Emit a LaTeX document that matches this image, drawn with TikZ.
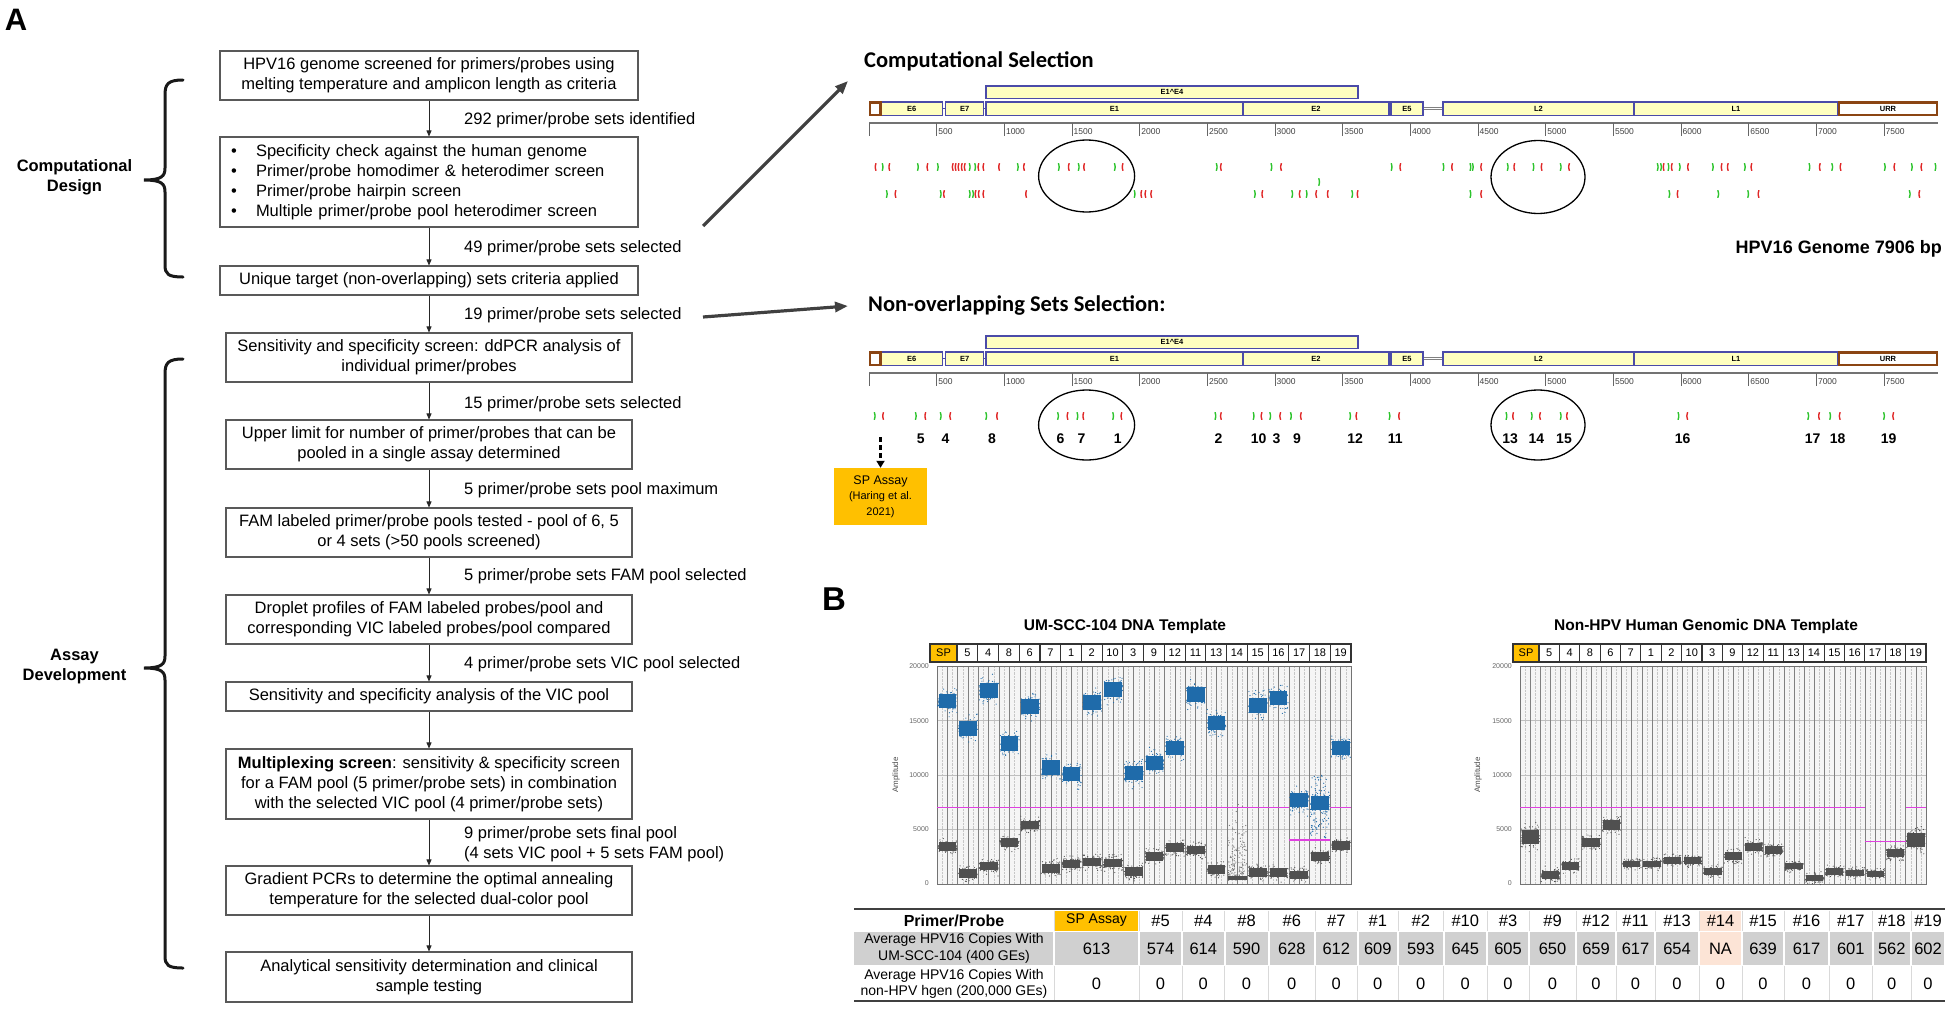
\documentclass[tikz,border=0pt]{standalone}
\usepackage{fontspec}
\setmainfont{Liberation Sans}
\newfontfamily\calib{Carlito}
\usetikzlibrary{arrows.meta}
\definecolor{gfill}{HTML}{FFFFC0}
\definecolor{gdraw}{HTML}{4B4BA8}
\definecolor{brownc}{HTML}{8B4513}
\definecolor{mkgreen}{HTML}{2EC42E}
\definecolor{mkred}{HTML}{E02828}
\definecolor{dropblue}{HTML}{1F6BAA}
\definecolor{dropgrey}{HTML}{505050}
\definecolor{thrmag}{HTML}{E040E0}
\definecolor{spor}{HTML}{FFC000}
\definecolor{peach}{HTML}{FCE4D6}
\definecolor{rowgrey}{HTML}{D0D0D0}
\definecolor{arrgrey}{HTML}{404040}
\newcommand\fs[2]{\fontsize{#1}{#2}\selectfont}
\newcommand\bx[6]{\node[#1, minimum width={(#4)-(#3)}, minimum height={(#6)-(#5)}] (#2) at ({((#3)+(#4))/2},{((#5)+(#6))/2})}
\newcommand\gmk[2]{\draw[mkgreen, line width=1.4pt] (#1,{#2-3.8}) .. controls ({#1+1.0},#2) .. (#1,{#2+3.8});}
\newcommand\rmk[2]{\draw[mkred, line width=1.4pt] (#1,{#2-3.8}) .. controls ({#1-1.0},#2) .. (#1,{#2+3.8});}
\newcommand\gmap[2]{%
\begin{scope}[shift={(0,#1)}]
 \draw[black!55, line width=1.8pt] (869,123) -- (1938,123);
 \foreach \tk in {0,500,...,7500}{\draw[black!60, line width=0.8pt] ({869+\tk*0.13533},123) -- ({869+\tk*0.13533},136);}
 \foreach \tk in {500,1000,...,7500}{\node[anchor=west, inner sep=0pt, font=\fs{8.5}{9}, text=black!75] at ({870.5+\tk*0.13533},131.5) {\tk};}
 \bx{gene}{#2ee}{986}{1358}{86}{98.5}{E1\textasciicircum E4};
 \bx{gene}{#2ea}{880.5}{942.7}{102}{115.5}{E6};
 \bx{gene}{#2eb}{945.6}{983.8}{102}{115.5}{E7};
 \bx{gene}{#2ec}{986}{1243}{102}{115.5}{E1};
 \bx{gene}{#2ed}{1243}{1389}{102}{115.5}{E2};
 \bx{gene}{#2ef}{1391}{1423}{102}{115.5}{E5};
 \bx{gene}{#2lb}{1443}{1634}{102}{115.5}{L2};
 \bx{gene}{#2la}{1634}{1838}{102}{115.5}{L1};
 \bx{brownbox}{#2lcr}{870}{880.5}{102.5}{115}{};
 \bx{brownbox}{#2urr}{1839}{1937}{102.5}{115}{URR};
 \draw[gdraw, line width=1pt] (#2ea.east) -- (#2eb.west);
 \draw[gdraw, line width=1pt] (#2eb.east) -- (#2ec.west);
 \draw[black!50, line width=3.2pt] (#2ef.east) -- (#2lb.west);
 \draw[white, line width=0.8pt] (#2ef.east) -- (#2lb.west);
\end{scope}}
\newcommand\blob[5]{%
 \fill[#5] ({#1+1.5},{#3-#4*0.33}) rectangle ({#1+#2-1.5},{#3+#4*0.33});
 \foreach \kk in {1,...,85}{\fill[#5] ({#1+0.7+rnd*(#2-1.4)},{#3+(rand+rand+rand)*#4*0.27}) circle (0.6);}
}
\newcommand\pframe[2]{%
 \fill[black!4] (#1,666) rectangle (#2,884);
 \pgfmathsetmacro\sw{(#2-#1)/40}
 \foreach \ii in {0,...,39}{\draw[black!22, densely dotted, line width=0.4pt] ({#1+(\ii+0.5)*\sw},666) -- ({#1+(\ii+0.5)*\sw},884);}
 \foreach \am in {5,10,15}{\draw[black!25, line width=0.6pt] (#1,{883.5-\am*10.85}) -- (#2,{883.5-\am*10.85});}
 \foreach \ii in {1,...,39}{\draw[black!50, line width=0.6pt] ({#1+\ii*\sw},666) -- ({#1+\ii*\sw},884);}
 \draw[black!55, line width=0.9pt] (#1,666) rectangle (#2,884);
 \foreach \am/\al in {0/0,5/5000,10/10000,15/15000,20/20000}{\node[anchor=east, inner sep=0pt, font=\fs{7}{8}, text=black!60] at ({#1-8},{883.5-\am*10.85}) {\al};}
}
\newcommand\phdr[4]{%
 \bx{hbox, fill=spor}{#4sp}{#1}{#2}{644}{662}{SP};
 \pgfmathsetmacro\hw{(#3-#2)/19}
 \foreach \lab [count=\jj from 0] in {5,4,8,6,7,1,2,10,3,9,12,11,13,14,15,16,17,18,19}{
   \bx{hbox}{#4h\lab}{#2+\jj*\hw}{#2+(\jj+1)*\hw}{644}{662}{\lab};
 }
}
\begin{document}
\begin{tikzpicture}[x=1pt,y=-1pt,
  flow/.style={draw=black!65, line width=1.1pt, fill=white, inner sep=0pt, align=center, font=\fs{16.5}{20}},
  flowlbl/.style={anchor=base west, inner sep=0pt, font=\fs{16.5}{20}},
  farr/.style={-{Triangle[length=6pt,width=5pt]}, line width=0.8pt, black!85},
  bracep/.style={line width=3pt, line cap=round, black!90},
  bigarr/.style={arrgrey, line width=3.2pt, -{Triangle[length=13pt,width=10pt]}},
  gene/.style={draw=gdraw, line width=1.2pt, fill=gfill, inner sep=0pt, font=\bfseries\fs{7.5}{8}},
  brownbox/.style={draw=brownc, line width=2.4pt, fill=white, inner sep=0pt, font=\bfseries\fs{7.5}{8}},
  hbox/.style={draw=black!80, line width=1.1pt, fill=white, inner sep=0pt, font=\fs{11}{12}},
  tv/.style={inner sep=0pt, font=\fs{16.5}{18}},
  num/.style={inner sep=0pt, font=\bfseries\fs{14}{15}, anchor=base},
]
\useasboundingbox (0,0) rectangle (1950,1009);
\pgfmathsetseed{12}
% ---------------- Panel A
\node[anchor=base, inner sep=0pt, font=\bfseries\fs{31}{31}] (lblA) at (16,30) {A};
\bx{flow}{b1}{220}{638}{51}{100}{HPV16 genome screened for primers/probes using\\melting temperature and amplicon length as criteria};
\bx{flow, align=left, text width=396pt}{b2}{220}{638}{137}{227}{%
\makebox[25pt][l]{\textbullet}Specificity check against the human genome\\
\makebox[25pt][l]{\textbullet}Primer/probe homodimer \& heterodimer screen\\
\makebox[25pt][l]{\textbullet}Primer/probe hairpin screen\\
\makebox[25pt][l]{\textbullet}Multiple primer/probe pool heterodimer screen};
\bx{flow}{b3}{220}{638}{266}{295}{Unique target (non-overlapping) sets criteria applied};
\bx{flow}{b4}{226}{632}{333}{382}{Sensitivity and specificity screen: ddPCR analysis of\\individual primer/probes};
\bx{flow}{b5}{226}{632}{420}{469}{Upper limit for number of primer/probes that can be\\pooled in a single assay determined};
\bx{flow}{b6}{226}{632}{508}{557}{FAM labeled primer/probe pools tested - pool of 6, 5\\or 4 sets (>50 pools screened)};
\bx{flow}{b7}{226}{632}{595}{644}{Droplet profiles of FAM labeled probes/pool and\\corresponding VIC labeled probes/pool compared};
\bx{flow}{b8}{226}{632}{682}{711}{Sensitivity and specificity analysis of the VIC pool};
\bx{flow}{b9}{226}{632}{749}{819}{\textbf{Multiplexing screen}: sensitivity \& specificity screen\\for a FAM pool (5 primer/probe sets) in combination\\with the selected VIC pool (4 primer/probe sets)};
\bx{flow}{b10}{226}{632}{866}{915}{Gradient PCRs to determine the optimal annealing\\temperature for the selected dual-color pool};
\bx{flow}{b11}{226}{632}{952}{1002}{Analytical sensitivity determination and clinical\\sample testing};
\foreach \u/\w in {b1/b2,b2/b3,b3/b4,b4/b5,b5/b6,b6/b7,b7/b8,b8/b9,b9/b10,b10/b11}{\draw[farr] (\u) -- (\w);}
\node[flowlbl] (l1) at (464,124) {292 primer/probe sets identified};
\node[flowlbl] (l2) at (464,252) {49 primer/probe sets selected};
\node[flowlbl] (l3) at (464,319) {19 primer/probe sets selected};
\node[flowlbl] (l4) at (464,408) {15 primer/probe sets selected};
\node[flowlbl] (l5) at (464,494) {5 primer/probe sets pool maximum};
\node[flowlbl] (l6) at (464,580) {5 primer/probe sets FAM pool selected};
\node[flowlbl] (l7) at (464,668) {4 primer/probe sets VIC pool selected};
\node[flowlbl, anchor=west, align=left] (l8) at (464,844.5) {9 primer/probe sets final pool\\(4 sets VIC pool + 5 sets FAM pool)};
% braces
\draw[bracep] (183,80) .. controls (168,80) and (165,84) .. (165,95) -- (165,168) .. controls (165,176) and (162,180) .. (144,180)
  .. controls (162,180) and (165,184) .. (165,192) -- (165,265) .. controls (165,274) and (168,277) .. (183,277);
\draw[bracep] (183,359) .. controls (168,359) and (165,363) .. (165,374) -- (165,656) .. controls (165,664) and (162,668) .. (144,668)
  .. controls (162,668) and (165,672) .. (165,680) -- (165,956) .. controls (165,965) and (168,968) .. (183,968);
\node[inner sep=0pt, align=center, font=\bfseries\fs{16.5}{20}] (cd) at (74.5,177) {Computational\\Design};
\node[inner sep=0pt, align=center, font=\bfseries\fs{16.5}{20}] (ad) at (74.5,667) {Assay\\Development};
% big arrows
\coordinate (a1s) at (703,226); \coordinate (a1e) at (848,81);
\coordinate (a2s) at (703,317); \coordinate (a2e) at (848,306);
\draw[bigarr] (a1s) -- (a1e);
\draw[bigarr] (a2s) -- (a2e);
% ---------------- Genome maps
\node[anchor=base west, inner sep=0pt, font=\calib\bfseries\fs{22.5}{24}] (t1) at (864,67) {Computational Selection};
\node[anchor=base west, inner sep=0pt, font=\calib\bfseries\fs{22.5}{24}] (t2) at (868,311.5) {Non-overlapping Sets Selection:};
\gmap{0}{m}
\gmap{250}{n}
\foreach \x in {882.2,917.5,937.4,969.3,974.7,1017.4,1058.4,1078.3,1114.4,1216.3,1271,1391.2,1443,1470,1472.4,1507.3,1533,1560.3,1657.3,1660.6,1668,1679.3,1712.4,1744.4,1809,1831.8,1884.4,1911.4,1935} \gmk{\x}{167};
\foreach \x in {876,889.7,927.8,953.1,956,958.9,962.2,965.1,978.8,983.8,999.5,1024.4,1069.2,1084.5,1123,1221.3,1281.4,1400.7,1452.5,1481.6,1514.7,1542,1569.4,1664,1672.2,1688.4,1722,1728.2,1751.8,1820.2,1840.9,1894.8,1921.8} \rmk{\x}{167};
\foreach \x in {886.4,940.3,969.3,972.6,1134.2,1254.4,1291.8,1306.2,1351.8,1470,1668.9,1717.8,1747.7,1909.3} \gmk{\x}{194};
\foreach \x in {895.9,944.4,975.9,979.2,983.8,1026.5,1141.7,1145.8,1151.6,1262.7,1300.1,1316.6,1328.2,1358,1481.6,1678,1758.9,1919.7} \rmk{\x}{194};
\gmk{1318.7}{182};
\draw[line width=1.3pt] (1086.6,176) ellipse [x radius=48, y radius=36];
\draw[line width=1.3pt] (1538,177) ellipse [x radius=47, y radius=36.5];
\node[anchor=base east, inner sep=0pt, font=\bfseries\fs{18}{20}] (gl) at (1942,253) {HPV16 Genome 7906 bp};
\foreach \x in {874.3,915.4,940.3,985.8,1057.6,1077,1112.7,1215,1253.2,1269.8,1290.5,1349.7,1389.1,1506,1531.3,1560.3,1678,1807.8,1829.7,1883.6} \gmk{\x}{416};
\foreach \x in {883.5,925.7,950.6,997.5,1067.9,1083.7,1121.8,1221.3,1261.9,1280.6,1301.3,1356.8,1399.5,1513.5,1540.4,1567.4,1687.6,1819.4,1840.1,1893.6} \rmk{\x}{416};
\foreach \x/\n in {920.8/5,945.6/4,992/8,1060.5/6,1081.6/7,1117.7/1,1218.4/2,1258.6/10,1276.4/3,1297.1/9,1355.1/12,1395.3/11,1510.2/13,1536.3/14,1564/15,1682.6/16,1812.7/17,1837.6/18,1888.6/19}
  \node[num] (n\n) at (\x,443) {\n};
\draw[line width=1.3pt] (1086.6,425) ellipse [x radius=48, y radius=35];
\draw[line width=1.3pt] (1538,425) ellipse [x radius=47, y radius=35];
\bx{fill=spor, inner sep=0pt, align=center, font=\fs{11}{15.5}}{sp}{834}{927}{468}{525}{{\fs{12.5}{15.5}SP Assay}\\(Haring et al.\\2021)};
\coordinate (spt) at (880.5,437);
\draw[line width=2.5pt, dash pattern=on 5pt off 3pt, -{Triangle[length=7pt,width=8pt]}] (spt) -- (spt |- sp.north);
% ---------------- Panel B
\node[anchor=base, inner sep=0pt, font=\bfseries\fs{33}{33}] (lblB) at (834,610.5) {B};
\node[anchor=base, inner sep=0pt, font=\bfseries\fs{15.5}{17}] (pt1) at (1125,630.5) {UM-SCC-104 DNA Template};
\node[anchor=base, inner sep=0pt, font=\bfseries\fs{15.5}{17}] (pt2) at (1706,630.5) {Non-HPV Human Genomic DNA Template};
\pframe{937}{1351}
\pframe{1520}{1926}
\phdr{930}{957}{1351}{p}
\phdr{1513}{1539}{1926}{q}
\node[rotate=90, inner sep=0pt, font=\fs{8}{9}, text=black!70] (amp1) at (896,775) {Amplitude};
\node[rotate=90, inner sep=0pt, font=\fs{8}{9}, text=black!70] (amp2) at (1478,775) {Amplitude};
% plot 1 clusters (amplitudes in hundreds)
\foreach \gv/\bv [count=\ii from 0] in {34/168,9/143,16/178,38/129,54/163,14/107,18/101,20/167,19/179,11/102,25/111,33/125,31/174,13/148,0/0,10/164,10/171,8/77,25/74,35/125}{
  \pgfmathsetmacro\xl{937+\ii*20.7}
  \ifnum\gv>0 \blob{\xl}{20.7}{883.5-\gv*1.085}{13}{dropgrey}\fi
  \ifnum\bv>0 \blob{\xl}{20.7}{883.5-\bv*1.085}{22}{dropblue}\fi
}
\foreach \kk in {1,...,170}{\fill[black!55] ({937+14*20.7+0.8+rnd*19.1},{883.5-(3+rnd*rnd*72)*1.085}) circle (0.6);}
\fill[dropgrey] ({937+14*20.7+1},876) rectangle ({937+15*20.7-1},880);
\foreach \kk in {1,...,90}{\fill[dropblue] ({937+18*20.7+0.8+rnd*19.1},{883.5-(42+rnd*58)*1.085}) circle (0.65);}
\draw[thrmag, line width=1.5pt] (937,807.5) -- ({937+17*20.7},807.5);
\draw[thrmag, line width=1.5pt] ({937+17*20.7},840.1) -- ({937+19*20.7},840.1);
\draw[thrmag, line width=1.5pt] ({937+19*20.7},807.5) -- (1351,807.5);
% plot 2 clusters
\foreach \gv/\hv [count=\ii from 0] in {43/22,8/12,16/12,38/14,54/14,18/10,18/10,21/10,21/10,11/10,25/12,34/12,31/12,16/10,5/9,11/10,10/9,9/9,28/12,40/22}{
  \pgfmathsetmacro\xl{1520+\ii*20.3}
  \blob{\xl}{20.3}{883.5-\gv*1.085}{\hv}{dropgrey}
}
\draw[thrmag, line width=1.5pt] (1520,807.5) -- ({1520+17*20.3},807.5);
\draw[thrmag, line width=1.5pt] ({1520+17*20.3},841.5) -- ({1520+19*20.3},841.5);
\draw[thrmag, line width=1.5pt] ({1520+19*20.3},807.5) -- (1926,807.5);
% ---------------- Table
\fill[rowgrey] (854,931.5) rectangle (1053,964.5);
\draw[arrgrey, line width=2.5pt] (854,909) -- (1945,909);
\node[inner sep=0pt, font=\bfseries\fs{16}{18}] (tpp) at (954,920.5) {Primer/Probe};
\node[inner sep=0pt, align=center, font=\fs{14}{16.5}] (tr1) at (954,948.5) {Average HPV16 Copies With\\UM-SCC-104 (400 GEs)};
\node[inner sep=0pt, align=center, font=\fs{14}{16.5}] (tr2) at (954,984) {Average HPV16 Copies With\\non-HPV hgen (200,000 GEs)};
\foreach \xa/\xb/\hh/\vv [count=\cc] in {1054/1139/{\fs{14}{16}SP Assay}/613,1139/1182/\#5/574,1182/1224.5/\#4/614,1224.5/1268.5/\#8/590,1268.5/1315/\#6/628,1315/1357.6/\#7/612,1357.6/1398/\#1/609,1398/1443.6/\#2/593,1443.6/1487/\#10/645,1487/1529/\#3/605,1529/1576/\#9/650,1576/1616/\#12/659,1616/1655/\#11/617,1655/1699/\#13/654,1699/1742/\#14/NA,1742/1784/\#15/639,1784/1829/\#16/617,1829/1872.5/\#17/601,1872.5/1911/\#18/562,1911/1945/\#19/602}{
  \ifnum\cc=15 \def\cf{peach}\else\def\cf{rowgrey}\fi
  \fill[\cf] ({\xa+1},931.5) rectangle ({\xb-1},964.5);
  \ifnum\cc=1 \fill[spor] ({\xa+1},910.5) rectangle ({\xb-1},930.5);\fi
  \ifnum\cc=15 \fill[peach] ({\xa+1},910.5) rectangle ({\xb-1},930.5);\fi
  \draw[black!15, line width=0.8pt] (\xa,910.5) -- (\xa,930.5) (\xa,965.5) -- (\xa,1000);
  \node[tv] (th\cc) at ({(\xa+\xb)/2},920.5) {\hh};
  \node[tv] (tv\cc) at ({(\xa+\xb)/2},948.5) {\vv};
  \node[tv] (tz\cc) at ({(\xa+\xb)/2},983.5) {0};
}
\draw[arrgrey, line width=2.5pt] (854,1001) -- (1945,1001);
\end{tikzpicture}
\end{document}
